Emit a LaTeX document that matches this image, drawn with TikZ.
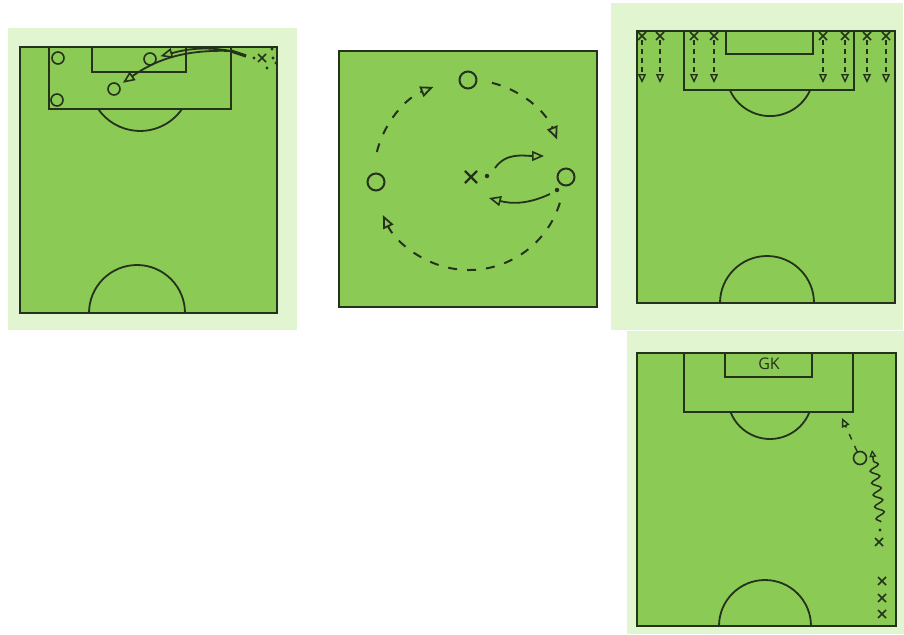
\documentclass[tikz,border=0pt]{standalone}
\usepackage{fontspec}
\newfontfamily\gkfont{Open Sans}
\usepackage{tikz}
\usetikzlibrary{arrows.meta, positioning, shapes.misc, decorations.pathmorphing}

\definecolor{turf}{RGB}{140,202,86}
\definecolor{mist}{RGB}{224,245,208}
\definecolor{ink}{RGB}{36,50,28}

\begin{document}
\begin{tikzpicture}[
    x=1pt, y=-1pt,
    sheet/.style={fill=mist},
    pitch/.style={fill=turf, draw=ink, line width=1.8pt},
    chalk/.style={draw=ink, line width=1.8pt},
    player/.style={circle, draw=ink, line width=1.6pt, minimum size=12pt, inner sep=0pt},
    bigplayer/.style={player, minimum size=17pt, line width=2pt},
    cross/.style={cross out, draw=ink, line width=1.5pt, minimum size=6.5pt, inner sep=0pt},
    dot/.style={circle, fill=ink, minimum size=3.2pt, inner sep=0pt},
    pass/.style={ink, line width=1.8pt, -{Triangle[open, length=12pt, width=10pt, line width=1.6pt]}},
    run/.style={pass, line width=2pt, dash pattern=on 9pt off 10pt,
      -{Triangle[open, length=13pt, width=11pt, line width=1.8pt]}},
    shortrun/.style={ink, line width=1.4pt, dash pattern=on 5pt off 4pt,
      -{Triangle[open, length=9pt, width=8pt, line width=1.4pt]}},
    dribble/.style={ink, line width=1.5pt, -{Triangle[open, length=7pt, width=7pt, line width=1.3pt]},
      decorate, decoration={snake, amplitude=4.5pt, segment length=12pt, post length=6pt}}
  ]
  \useasboundingbox (0,0) rectangle (904,634);

  % corner kick
  \fill[sheet] (8,28) rectangle (297,330);
  \draw[pitch] (20,47) rectangle (277,313);
  \draw[chalk] (49,47) rectangle (231,109);
  \draw[chalk] (92,47) rectangle (186,72);
  \draw[chalk] (182,109) arc[start angle=-34.7, end angle=-145.3, radius=51pt];
  \draw[chalk] (185,313) arc[start angle=0, end angle=180, radius=48pt];
  \node[player] (o1a) at (58,58) {};
  \node[player] (o1b) at (57,100) {};
  \node[player] (o1c) at (150,59) {};
  \node[player] (o1d) at (114,89) {};
  \node[cross] (x1) at (262,58) {};
  \node[dot] at (254,58) {};
  \node[dot] at (273,58) {};
  \node[dot] at (272,49) {};
  \node[dot] at (267,68) {};
  \node[dot] at (276,63) {};
  \coordinate (k1) at (246,56);
  \coordinate (k2) at (231,51);
  \draw[ink, line width=3.2pt] (k1) -- (k2);
  \draw[pass, shorten >=4pt] (k2) to[out=170, in=15] (o1c.15);
  \draw[pass, shorten >=4pt] (k2) to[out=178, in=35] (o1d.35);

  % circle run
  \draw[pitch] (339,51) rectangle (597,307);
  \coordinate (ring) at (469,175);
  \node[bigplayer] (o2a) at (468,80) {};
  \node[bigplayer] (o2b) at (376,182) {};
  \node[bigplayer] (o2c) at (566,177) {};
  \node[cross, minimum size=10pt, line width=2.2pt] (x2) at (471,177) {};
  \node[dot, minimum size=4.5pt] (d2a) at (487,176) {};
  \node[dot, minimum size=4.5pt] (d2b) at (557,190) {};
  \draw[run] ([shift={(166:95pt)}]ring) arc[start angle=166, end angle=112, radius=95pt];
  \draw[run] ([shift={(76:95pt)}]ring) arc[start angle=76, end angle=22, radius=95pt];
  \draw[run] ([shift={(-17:95pt)}]ring) arc[start angle=-17, end angle=-155, radius=95pt];
  \coordinate (s2a) at (495,168);
  \coordinate (t2a) at (544,156);
  \coordinate (s2b) at (550,194);
  \coordinate (t2b) at (489,198);
  \draw[pass] (s2a) to[out=55, in=180] (t2a);
  \draw[pass] (s2b) to[out=-155, in=-15] (t2b);

  % back line
  \fill[sheet] (611,3) rectangle (903,330);
  \draw[pitch] (637,31) rectangle (895,303);
  \draw[chalk] (684,31) rectangle (854,90);
  \draw[chalk] (726,31) rectangle (813,54);
  \draw[chalk] (810.2,90) arc[start angle=-24, end angle=-156, radius=44pt];
  \draw[chalk] (814,303) arc[start angle=0, end angle=180, radius=47pt];
  \foreach \xx [count=\i] in {642,660,694,714,823,845,867,886} {
    \node[cross] (x3\i) at (\xx,36) {};
    \coordinate (h3\i) at (\xx,83);
    \draw[shortrun] (x3\i) -- (h3\i);
  }

  % dribble
  \fill[sheet] (627,331) rectangle (904,634);
  \draw[pitch] (637,353) rectangle (896,626);
  \draw[chalk] (684,353) rectangle (853,412);
  \draw[chalk] (725,353) rectangle (812,377);
  \node[font=\gkfont\fontsize{16}{18}\selectfont, text=ink] (gk) at (769,364) {GK};
  \draw[chalk] (809.5,412) arc[start angle=-21.3, end angle=-158.7, radius=42.4pt];
  \draw[chalk] (811,626) arc[start angle=0, end angle=180, radius=46pt];
  \node[player, minimum size=13pt] (o4) at (860,458) {};
  \coordinate (g4) at (842,418);
  \draw[shortrun, dash pattern=on 6pt off 7pt] (o4) -- (g4);
  \coordinate (w4) at (881,522);
  \coordinate (u4) at (872,450);
  \draw[dribble] (w4) -- (u4);
  \node[dot] (d4) at (880,530) {};
  \node[cross] (x4a) at (879,542) {};
  \node[cross] (x4b) at (882,581) {};
  \node[cross] (x4c) at (882,598) {};
  \node[cross] (x4d) at (882,614) {};
\end{tikzpicture}
\end{document}
